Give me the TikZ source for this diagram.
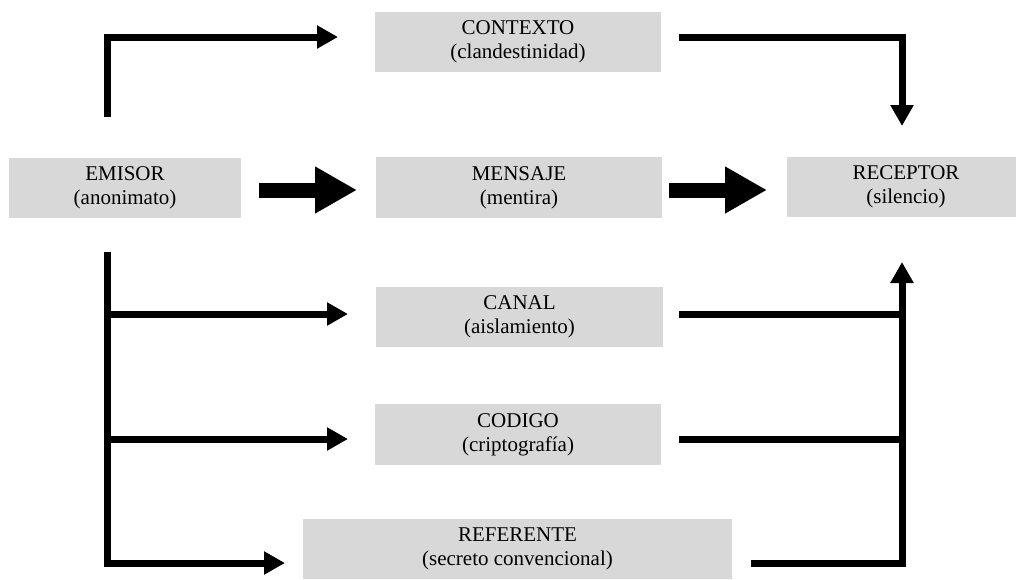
\documentclass[tikz,border=0pt]{standalone}
\usepackage{fontspec}
\setmainfont{Liberation Serif}
\usetikzlibrary{arrows.meta}
\definecolor{boxgray}{RGB}{216,216,216}
\tikzset{
  box/.style={fill=boxgray, draw=none, inner sep=0pt, align=center,
    font=\fontsize{21}{24}\selectfont, minimum height=60pt},
  thinarrow/.style={line width=7pt, line join=miter, -{Triangle[length=21pt,width=22pt]}},
  thinline/.style={line width=7pt, line join=miter},
  bigarrow/.style={line width=15pt, -{Triangle[length=42pt,width=44pt]}}
}
\begin{document}
\begin{tikzpicture}[x=1pt,y=-1pt]
\clip (0,0) rectangle (1016,579);
\fill[white] (0,0) rectangle (1016,579);
% boxes
\node[box, minimum width=232pt] (emisor) at (125,187.5) {EMISOR\\(anonimato)};
\node[box, minimum width=286pt] (contexto) at (518,42) {CONTEXTO\\(clandestinidad)};
\node[box, minimum width=286pt, minimum height=61pt] (mensaje) at (519,187.5) {MENSAJE\\(mentira)};
\node[box, minimum width=238pt] (receptor) at (906,187) {RECEPTOR\\(silencio)};
\node[box, minimum width=287pt] (canal) at (519.5,317) {CANAL\\(aislamiento)};
\node[box, minimum width=286pt, minimum height=61pt] (codigo) at (518,434.5) {CODIGO\\(criptografía)};
\node[box, minimum width=429pt] (referente) at (517.5,549) {REFERENTE\\(secreto convencional)};
% connector end points
\coordinate (eTop) at (107,117);
\coordinate (eBot) at (107,252);
\coordinate (ctxIn) at (338,37);
\coordinate (ctxOut) at (679,37);
\coordinate (recTop) at (902,126);
\coordinate (recBot) at (902,262);
\coordinate (canIn) at (348,314);
\coordinate (codIn) at (348,439);
\coordinate (refIn) at (285,563);
\coordinate (canOut) at (679,314);
\coordinate (codOut) at (679,439);
\coordinate (refOut) at (751,563);
\coordinate (bigAs) at (259,190);
\coordinate (bigAe) at (357,190);
\coordinate (bigBs) at (669,190);
\coordinate (bigBe) at (767,190);
% connectors
\draw[thinarrow] (eTop) |- (ctxIn);
\draw[thinarrow] (ctxOut) -| (recTop);
\draw[bigarrow] (bigAs) -- (bigAe);
\draw[bigarrow] (bigBs) -- (bigBe);
\draw[thinarrow] (eBot) |- (refIn);
\draw[thinarrow] (eBot |- canIn) -- (canIn);
\draw[thinarrow] (eBot |- codIn) -- (codIn);
\draw[thinarrow] (refOut) -| (recBot);
\draw[thinline] (canOut) -- (canOut -| recBot);
\draw[thinline] (codOut) -- (codOut -| recBot);
\end{tikzpicture}
\end{document}
